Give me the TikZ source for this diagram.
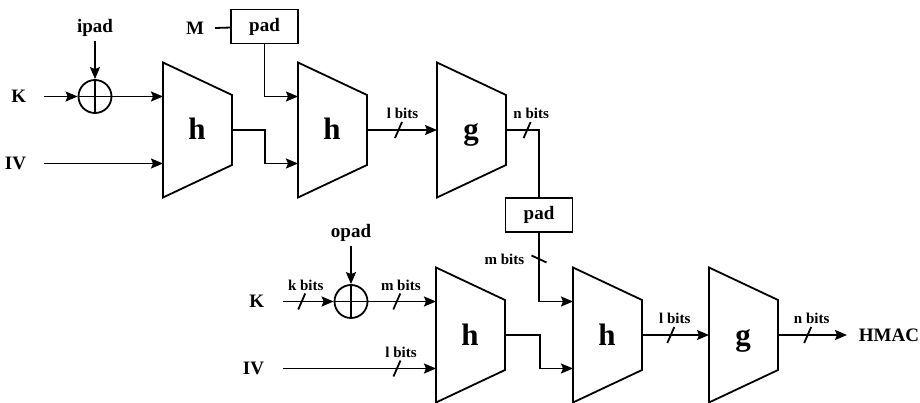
\documentclass[tikz,border=0pt]{standalone}
\usepackage{fontspec}
\setmainfont{Liberation Serif}
\usetikzlibrary{arrows.meta}

\begin{document}
\begin{tikzpicture}[x=1pt,y=-1pt,line width=1.8pt,
    >={Stealth[length=12pt,width=10pt,inset=2pt]},
    lbl/.style={font=\fontsize{19}{21}\selectfont\bfseries,inner sep=0pt},
    bitlbl/.style={font=\fontsize{15}{17}\selectfont\bfseries,inner sep=0pt,above=10pt,xshift=4pt},
    vbitlbl/.style={font=\fontsize{15}{17}\selectfont\bfseries,inner sep=0pt,left=14pt},
    bigtxt/.style={font=\fontsize{31}{33}\selectfont\bfseries,inner sep=0pt,anchor=base},
    padbox/.style={draw,minimum width=67pt,minimum height=34pt,inner sep=0pt,
                   font=\fontsize{19}{21}\selectfont\bfseries},
    xorc/.style={draw,circle,minimum size=33pt,inner sep=0pt},
    hcut/.pic={\draw[-] (-3.5,8) -- (3.5,-8);},
    vcut/.pic={\draw[-] (-7.5,-3.5) -- (7.5,3.5);}]
    \useasboundingbox (0,0) rectangle (920,403);

    % Compression blocks
    \foreach \nm/\lx/\cy/\txt in {h1/163/130/h, h2/298/130/h, g1/437/130/g,
                                  h3/436/335/h, h4/573/335/h, g2/709/335/g} {
        \draw (\lx,\cy-67.5) -- (\lx+69,\cy-35) -- (\lx+69,\cy+35)
              -- (\lx,\cy+67.5) -- cycle;
        \node[bigtxt] (\nm) at (\lx+34,\cy+10) {\txt};
        \coordinate (\nm-in1) at (\lx,\cy-33.5);
        \coordinate (\nm-in2) at (\lx,\cy+33.5);
        \coordinate (\nm-in) at (\lx,\cy);
        \coordinate (\nm-out) at (\lx+69,\cy);
    }

    % Inner hash
    \node[lbl] (ipad) at (95,28) {ipad};
    \node[xorc] (x1) at (95,96.5) {};
    \draw (x1.north) -- (x1.south) (x1.west) -- (x1.east);
    \node[lbl,anchor=east] (K1) at (27,96.5) {K};
    \node[lbl,anchor=east] (IV1) at (27,163.5) {IV};
    \node[lbl,anchor=east] (M) at (205,28) {M};
    \node[padbox] (pad1) at (264.5,26.5) {pad};
    \node[padbox] (pad2) at (539,215) {pad};

    \draw[->,shorten <=3pt] (ipad) -- (x1);
    \draw[->] ([xshift=17]K1.east) -- (x1);
    \draw[->] (x1) -- (h1-in1);
    \draw[->] ([xshift=17]IV1.east) -- (h1-in2);
    \draw ([xshift=10]M.east) -- (pad1);
    \draw[->] (pad1.south) |- (h2-in1);
    \draw[->] (h1-out) -| ([xshift=-33]h2-in2) -- (h2-in2);
    \draw[->] (h2-out) -- pic[pos=.45]{hcut} node[bitlbl,pos=.45]{l bits} (g1-in);
    \draw (g1-out) -| pic[pos=.32]{hcut} node[bitlbl,pos=.32]{n bits} (pad2.north);

    % Outer hash
    \node[lbl] (opad) at (351,233) {opad};
    \node[xorc] (x2) at (351,301.5) {};
    \draw (x2.north) -- (x2.south) (x2.west) -- (x2.east);
    \node[lbl,anchor=east] (K2) at (265,301.5) {K};
    \node[lbl,anchor=east] (IV2) at (265,368.5) {IV};
    \node[lbl,anchor=west] (hmac) at (858,335) {HMAC};

    \draw[->,shorten <=3pt] (opad) -- (x2);
    \draw[->] ([xshift=18]K2.east) -- pic[pos=.37]{hcut} node[bitlbl,pos=.37]{k bits} (x2);
    \draw[->] (x2) -- pic[pos=.42]{hcut} node[bitlbl,pos=.42]{m bits} (h3-in1);
    \draw[->] ([xshift=18]IV2.east) -- pic[pos=.745]{hcut} node[bitlbl,pos=.745]{l bits} (h3-in2);
    \draw[->] (pad2.south) |- pic[pos=.19]{vcut} node[vbitlbl,pos=.19]{m bits} (h4-in1);
    \draw[->] (h3-out) -| ([xshift=-33]h4-in2) -- (h4-in2);
    \draw[->] (h4-out) -- pic[pos=.43]{hcut} node[bitlbl,pos=.43]{l bits} (g2-in);
    \draw[->] (g2-out) -- pic[pos=.43]{hcut} node[bitlbl,pos=.43]{n bits} ([xshift=-11]hmac.west);
\end{tikzpicture}
\end{document}
